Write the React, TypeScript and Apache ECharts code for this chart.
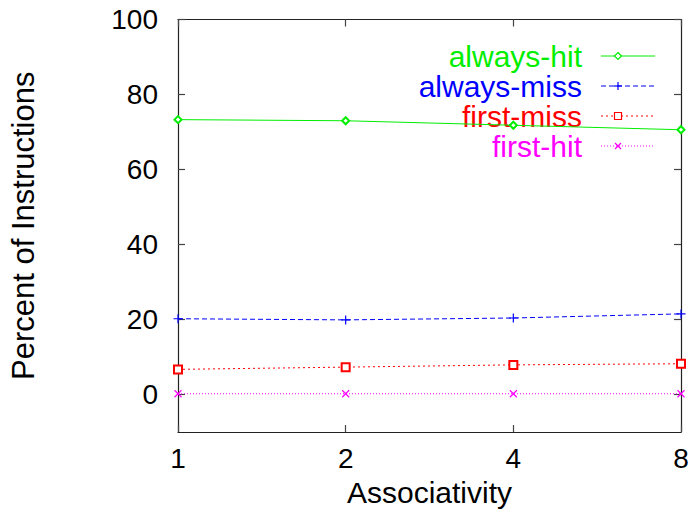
import React, { useEffect, useRef } from "react";
import * as echarts from "echarts";

const categories = ["1", "2", "4", "8"];
const alwaysHit = [73.3, 73.0, 71.8, 70.6];
const alwaysMiss = [20.2, 19.9, 20.4, 21.5];
const firstMiss = [6.7, 7.3, 7.9, 8.2];
const firstHit = [0.2, 0.2, 0.2, 0.2];
const yTicks = [0, 20, 40, 60, 80, 100];
const seriesNames = ["always-hit", "always-miss", "first-miss", "first-hit"];

const FONT = "'Liberation Sans', Arial, Helvetica, sans-serif";
const GREEN = "#00ee00";
const BLUE = "#0000ff";
const RED = "#ff0000";
const MAGENTA = "#ff00ff";

const PLUS = "path://M0,-5 L0,5 M-5,0 L5,0";
const CROSS = "path://M-5,-5 L5,5 M-5,5 L5,-5";

export default function App() {
  const ref = useRef<HTMLDivElement>(null);

  useEffect(() => {
    document.body.style.margin = "0";
    if (!ref.current) return;
    const chart = echarts.init(ref.current, null, { renderer: "svg" });

    const legendX = 582;
    const lineX1 = 601;
    const lineX2 = 655;
    const markX = 618;
    const legendY0 = 56;
    const legendGap = 30;
    const legendItems = [
      { name: seriesNames[0], color: GREEN, dash: null as any, mark: "diamond" },
      { name: seriesNames[1], color: BLUE, dash: [5, 3], mark: "plus" },
      { name: seriesNames[2], color: RED, dash: [2, 3], mark: "square" },
      { name: seriesNames[3], color: MAGENTA, dash: [1, 2], mark: "cross" },
    ];
    const graphics: any[] = [];
    legendItems.forEach((it, i) => {
      const y = legendY0 + i * legendGap;
      graphics.push({
        type: "text",
        x: legendX,
        y: y,
        style: {
          text: it.name,
          fill: it.color,
          font: `30px ${FONT}`,
          align: "right",
          verticalAlign: "middle",
        },
      });
      graphics.push({
        type: "line",
        shape: { x1: lineX1, y1: y, x2: lineX2, y2: y },
        style: { stroke: it.color, lineWidth: 1, lineDash: it.dash || undefined },
      });
      if (it.mark === "diamond") {
        graphics.push({
          type: "polygon",
          shape: { points: [[markX, y - 3.5], [markX + 3.5, y], [markX, y + 3.5], [markX - 3.5, y]] },
          style: { fill: "#fff", stroke: it.color, lineWidth: 1.2 },
        });
      } else if (it.mark === "plus") {
        graphics.push({ type: "line", shape: { x1: markX - 4, y1: y, x2: markX + 4, y2: y }, style: { stroke: it.color, lineWidth: 1.2 } });
        graphics.push({ type: "line", shape: { x1: markX, y1: y - 4, x2: markX, y2: y + 4 }, style: { stroke: it.color, lineWidth: 1.2 } });
      } else if (it.mark === "square") {
        graphics.push({ type: "rect", shape: { x: markX - 3.5, y: y - 3.5, width: 7, height: 7 }, style: { fill: "#fff", stroke: it.color, lineWidth: 1.2 } });
      } else {
        graphics.push({ type: "line", shape: { x1: markX - 3, y1: y - 3, x2: markX + 3, y2: y + 3 }, style: { stroke: it.color, lineWidth: 1.2 } });
        graphics.push({ type: "line", shape: { x1: markX - 3, y1: y + 3, x2: markX + 3, y2: y - 3 }, style: { stroke: it.color, lineWidth: 1.2 } });
      }
    });

    const axisLineStyle = { color: "#222", width: 1.2 };
    const tickCommon = { show: true, inside: true, length: 7, lineStyle: { color: "#444", width: 1.2 } };

    chart.setOption({
      animation: false,
      backgroundColor: "#fff",
      grid: { left: 176, right: 11, top: 19.5, bottom: 82, containLabel: false },
      xAxis: [
        {
          type: "category",
          data: categories,
          boundaryGap: false,
          position: "bottom",
          axisLine: { show: true, onZero: false, lineStyle: axisLineStyle },
          axisTick: tickCommon,
          axisLabel: { show: true, color: "#000", fontSize: 28, fontFamily: FONT, margin: 12 },
          splitLine: { show: false },
          name: "Associativity",
          nameLocation: "middle",
          nameGap: 45,
          nameTextStyle: { color: "#000", fontSize: 30, fontFamily: FONT },
        },
        {
          type: "category",
          data: categories,
          boundaryGap: false,
          position: "top",
          axisLine: { show: true, onZero: false, lineStyle: axisLineStyle },
          axisTick: tickCommon,
          axisLabel: { show: false },
          splitLine: { show: false },
        },
      ],
      yAxis: [
        {
          type: "value",
          min: -10,
          max: 100,
          position: "left",
          axisLine: { show: true, onZero: false, lineStyle: axisLineStyle },
          axisTick: { ...tickCommon, customValues: yTicks },
          axisLabel: { show: true, customValues: yTicks, color: "#000", fontSize: 28, fontFamily: FONT, margin: 20 },
          splitLine: { show: false },
          name: "Percent of Instructions",
          nameLocation: "middle",
          nameGap: 139,
          nameTextStyle: { color: "#000", fontSize: 31, fontFamily: FONT },
        },
        {
          type: "value",
          min: -10,
          max: 100,
          position: "right",
          axisLine: { show: true, onZero: false, lineStyle: axisLineStyle },
          axisTick: { ...tickCommon, customValues: yTicks },
          axisLabel: { show: false },
          splitLine: { show: false },
        },
      ],
      series: [
        {
          name: seriesNames[0],
          type: "line",
          data: alwaysHit,
          symbol: "emptyDiamond",
          symbolSize: 7,
          lineStyle: { color: GREEN, width: 1 },
          itemStyle: { color: GREEN, borderWidth: 1.2 },
        },
        {
          name: seriesNames[1],
          type: "line",
          data: alwaysMiss,
          symbol: PLUS,
          symbolSize: 9,
          lineStyle: { color: BLUE, width: 1, type: [5, 3] },
          itemStyle: { color: BLUE, borderColor: BLUE, borderWidth: 1.2 },
        },
        {
          name: seriesNames[2],
          type: "line",
          data: firstMiss,
          symbol: "emptyRect",
          symbolSize: 8,
          lineStyle: { color: RED, width: 1, type: [2, 3] },
          itemStyle: { color: RED, borderWidth: 1.2 },
        },
        {
          name: seriesNames[3],
          type: "line",
          data: firstHit,
          symbol: CROSS,
          symbolSize: 7,
          lineStyle: { color: MAGENTA, width: 1, type: [1, 2] },
          itemStyle: { color: MAGENTA, borderColor: MAGENTA, borderWidth: 1.2 },
        },
      ],
      graphic: graphics,
    });

    return () => {
      chart.dispose();
    };
  }, []);

  return <div ref={ref} style={{ width: 692, height: 514 }} />;
}
